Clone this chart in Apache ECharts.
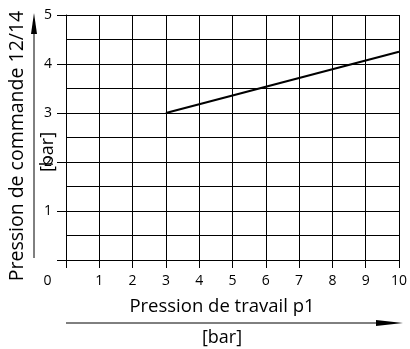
<!DOCTYPE html>
<html><head><meta charset="utf-8">
<script src="https://cdn.jsdelivr.net/npm/echarts@6/dist/echarts.min.js"></script>
<style>html,body{margin:0;padding:0;background:#fff}#c{width:410px;height:349px}</style>
</head><body><div id="c"></div>
<script>
var xTicks = [0,1,2,3,4,5,6,7,8,9,10];
var yTicks = [0,1,2,3,4,5];
var lineX = [3, 10];
var lineY = [3, 4.25];
var xTitle = 'Pression de travail p1';
var yTitle = 'Pression de commande 12/14';
var unit = '[bar]';

var chart = echarts.init(document.getElementById('c'));
var F = 'Open Sans';
chart.setOption({
  animation: false,
  grid: {left: 66, right: 8, top: 15, bottom: 89},
  xAxis: {
    type: 'value', min: xTicks[0], max: xTicks[xTicks.length-1], interval: 1,
    axisLine: {show: true, lineStyle: {color: '#000', width: 1}},
    axisTick: {show: true, length: 8, lineStyle: {color: '#000'}},
    splitLine: {show: true, lineStyle: {color: '#000', width: 1}},
    axisLabel: {
      margin: 14, color: '#000', fontFamily: F, fontSize: 14,
      formatter: function (v) { return v === 0 ? '{z|0}' : String(v); },
      rich: {z: {padding: [0, 37, 0, 0], fontFamily: F, fontSize: 14, color: '#000'}}
    }
  },
  yAxis: {
    type: 'value', min: yTicks[0], max: yTicks[yTicks.length-1], interval: 1,
    axisLine: {show: true, lineStyle: {color: '#000', width: 1}},
    axisTick: {show: true, length: 9, lineStyle: {color: '#000'}},
    splitLine: {show: true, lineStyle: {color: '#000', width: 1}},
    minorTick: {show: false, splitNumber: 2},
    minorSplitLine: {show: true, lineStyle: {color: '#000', width: 1}},
    axisLabel: {
      margin: 14, color: '#000', fontFamily: F, fontSize: 14,
      formatter: function (v) { return v === 0 ? '' : String(v); }
    }
  },
  series: [{
    type: 'line', symbol: 'none',
    data: lineX.map(function (x, i) { return [x, lineY[i]]; }),
    lineStyle: {color: '#000', width: 2.2}
  }],
  graphic: [
    {type: 'text', x: 222, y: 307, style: {text: xTitle, font: '18.5px "' + F + '"', fill: '#000', align: 'center', verticalAlign: 'middle'}},
    {type: 'text', x: 222, y: 338, style: {text: unit, font: '18px "' + F + '"', fill: '#000', align: 'center', verticalAlign: 'middle'}},
    {type: 'text', x: 17, y: 146, rotation: Math.PI/2, style: {text: yTitle, font: '19.5px "' + F + '"', fill: '#000', align: 'center', verticalAlign: 'middle'}},
    {type: 'text', x: 48, y: 152, rotation: Math.PI/2, style: {text: unit, font: '18px "' + F + '"', fill: '#000', align: 'center', verticalAlign: 'middle'}},
    {type: 'line', shape: {x1: 34, y1: 258, x2: 34, y2: 30}, style: {stroke: '#000', lineWidth: 1}},
    {type: 'polygon', shape: {points: [[34, 13], [37, 34], [31, 34]]}, style: {fill: '#000'}},
    {type: 'line', shape: {x1: 66, y1: 323, x2: 380, y2: 323}, style: {stroke: '#000', lineWidth: 1}},
    {type: 'polygon', shape: {points: [[376, 320], [403, 323], [376, 326]]}, style: {fill: '#000'}}
  ]
});
</script></body></html>
